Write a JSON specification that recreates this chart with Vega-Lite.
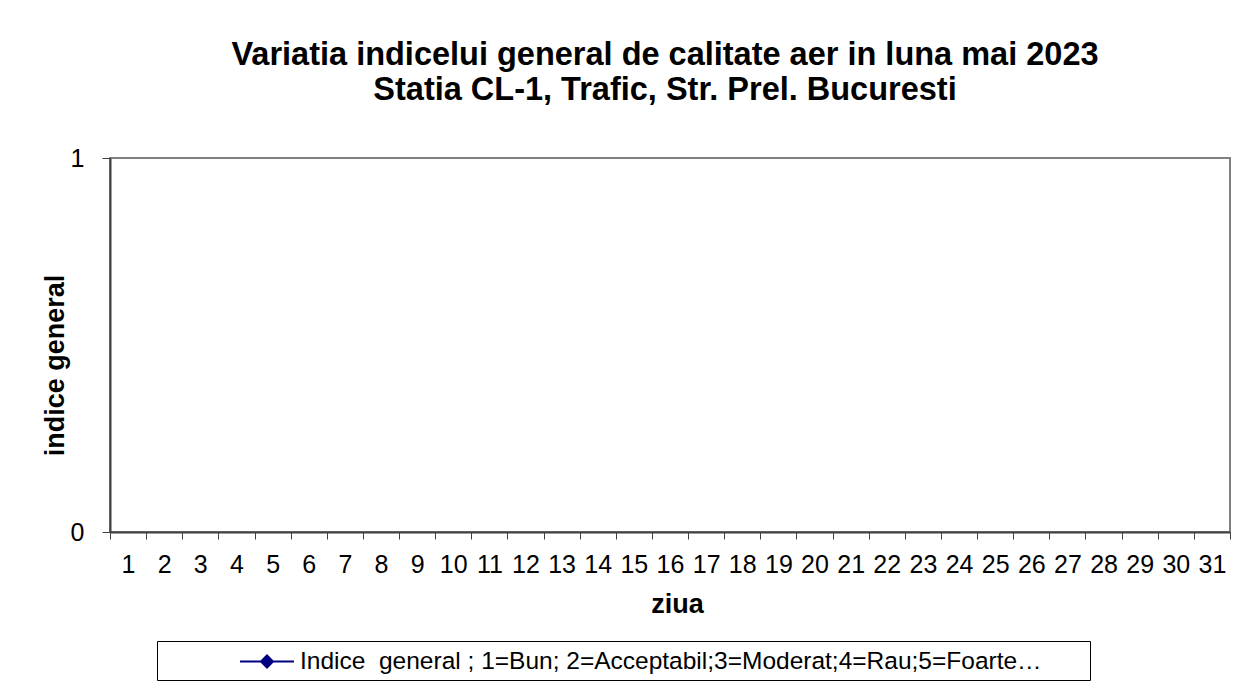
{
  "$schema": "https://vega.github.io/schema/vega-lite/v6.json",
  "width": 1120,
  "height": 374,
  "autosize": {"type": "none"},
  "padding": {"left": 110, "top": 158, "right": 20, "bottom": 156},
  "background": "white",
  "config": {
    "view": {"stroke": "#808080", "strokeWidth": 2},
    "font": "Liberation Sans"
  },
  "title": {
    "text": ["Variatia indicelui general de calitate aer in luna mai 2023", "Statia CL-1, Trafic, Str. Prel. Bucuresti"],
    "fontSize": 32.5,
    "fontWeight": "bold",
    "font": "Liberation Sans",
    "color": "black",
    "anchor": "middle",
    "frame": "group",
    "lineHeight": 35,
    "offset": 40,
    "dx": -5
  },
  "data": {
    "values": [
      {"ziua": 1, "indice": null, "serie": "Indice  general ; 1=Bun; 2=Acceptabil;3=Moderat;4=Rau;5=Foarte…"},
      {"ziua": 2, "indice": null, "serie": "Indice  general ; 1=Bun; 2=Acceptabil;3=Moderat;4=Rau;5=Foarte…"},
      {"ziua": 3, "indice": null, "serie": "Indice  general ; 1=Bun; 2=Acceptabil;3=Moderat;4=Rau;5=Foarte…"},
      {"ziua": 4, "indice": null, "serie": "Indice  general ; 1=Bun; 2=Acceptabil;3=Moderat;4=Rau;5=Foarte…"},
      {"ziua": 5, "indice": null, "serie": "Indice  general ; 1=Bun; 2=Acceptabil;3=Moderat;4=Rau;5=Foarte…"},
      {"ziua": 6, "indice": null, "serie": "Indice  general ; 1=Bun; 2=Acceptabil;3=Moderat;4=Rau;5=Foarte…"},
      {"ziua": 7, "indice": null, "serie": "Indice  general ; 1=Bun; 2=Acceptabil;3=Moderat;4=Rau;5=Foarte…"},
      {"ziua": 8, "indice": null, "serie": "Indice  general ; 1=Bun; 2=Acceptabil;3=Moderat;4=Rau;5=Foarte…"},
      {"ziua": 9, "indice": null, "serie": "Indice  general ; 1=Bun; 2=Acceptabil;3=Moderat;4=Rau;5=Foarte…"},
      {"ziua": 10, "indice": null, "serie": "Indice  general ; 1=Bun; 2=Acceptabil;3=Moderat;4=Rau;5=Foarte…"},
      {"ziua": 11, "indice": null, "serie": "Indice  general ; 1=Bun; 2=Acceptabil;3=Moderat;4=Rau;5=Foarte…"},
      {"ziua": 12, "indice": null, "serie": "Indice  general ; 1=Bun; 2=Acceptabil;3=Moderat;4=Rau;5=Foarte…"},
      {"ziua": 13, "indice": null, "serie": "Indice  general ; 1=Bun; 2=Acceptabil;3=Moderat;4=Rau;5=Foarte…"},
      {"ziua": 14, "indice": null, "serie": "Indice  general ; 1=Bun; 2=Acceptabil;3=Moderat;4=Rau;5=Foarte…"},
      {"ziua": 15, "indice": null, "serie": "Indice  general ; 1=Bun; 2=Acceptabil;3=Moderat;4=Rau;5=Foarte…"},
      {"ziua": 16, "indice": null, "serie": "Indice  general ; 1=Bun; 2=Acceptabil;3=Moderat;4=Rau;5=Foarte…"},
      {"ziua": 17, "indice": null, "serie": "Indice  general ; 1=Bun; 2=Acceptabil;3=Moderat;4=Rau;5=Foarte…"},
      {"ziua": 18, "indice": null, "serie": "Indice  general ; 1=Bun; 2=Acceptabil;3=Moderat;4=Rau;5=Foarte…"},
      {"ziua": 19, "indice": null, "serie": "Indice  general ; 1=Bun; 2=Acceptabil;3=Moderat;4=Rau;5=Foarte…"},
      {"ziua": 20, "indice": null, "serie": "Indice  general ; 1=Bun; 2=Acceptabil;3=Moderat;4=Rau;5=Foarte…"},
      {"ziua": 21, "indice": null, "serie": "Indice  general ; 1=Bun; 2=Acceptabil;3=Moderat;4=Rau;5=Foarte…"},
      {"ziua": 22, "indice": null, "serie": "Indice  general ; 1=Bun; 2=Acceptabil;3=Moderat;4=Rau;5=Foarte…"},
      {"ziua": 23, "indice": null, "serie": "Indice  general ; 1=Bun; 2=Acceptabil;3=Moderat;4=Rau;5=Foarte…"},
      {"ziua": 24, "indice": null, "serie": "Indice  general ; 1=Bun; 2=Acceptabil;3=Moderat;4=Rau;5=Foarte…"},
      {"ziua": 25, "indice": null, "serie": "Indice  general ; 1=Bun; 2=Acceptabil;3=Moderat;4=Rau;5=Foarte…"},
      {"ziua": 26, "indice": null, "serie": "Indice  general ; 1=Bun; 2=Acceptabil;3=Moderat;4=Rau;5=Foarte…"},
      {"ziua": 27, "indice": null, "serie": "Indice  general ; 1=Bun; 2=Acceptabil;3=Moderat;4=Rau;5=Foarte…"},
      {"ziua": 28, "indice": null, "serie": "Indice  general ; 1=Bun; 2=Acceptabil;3=Moderat;4=Rau;5=Foarte…"},
      {"ziua": 29, "indice": null, "serie": "Indice  general ; 1=Bun; 2=Acceptabil;3=Moderat;4=Rau;5=Foarte…"},
      {"ziua": 30, "indice": null, "serie": "Indice  general ; 1=Bun; 2=Acceptabil;3=Moderat;4=Rau;5=Foarte…"},
      {"ziua": 31, "indice": null, "serie": "Indice  general ; 1=Bun; 2=Acceptabil;3=Moderat;4=Rau;5=Foarte…"}
    ]
  },
  "mark": {"type": "line", "strokeWidth": 2, "point": {"shape": "diamond", "filled": true, "size": 100}},
  "encoding": {
    "x": {
      "field": "ziua",
      "type": "ordinal",
      "scale": {"type": "band", "domain": [1,2,3,4,5,6,7,8,9,10,11,12,13,14,15,16,17,18,19,20,21,22,23,24,25,26,27,28,29,30,31], "paddingInner": 0, "paddingOuter": 0},
      "axis": {
        "title": "ziua",
        "titleFont": "Liberation Sans",
        "titleFontSize": 27,
        "titleFontWeight": "bold",
        "titleColor": "black",
        "titleBaseline": "alphabetic",
        "titleX": 567,
        "titleY": 80,
        "labelAngle": 0,
        "labelFont": "Liberation Sans",
        "labelFontSize": 25,
        "labelColor": "black",
        "labelPadding": 13,
        "labelOverlap": false,
        "labelFlush": false,
        "tickSize": 7,
        "tickColor": "#404040",
        "tickWidth": 1,
        "tickBand": "extent",
        "domainColor": "#404040",
        "domainWidth": 2,
        "grid": false
      }
    },
    "y": {
      "field": "indice",
      "type": "quantitative",
      "scale": {"domain": [0, 1], "nice": false, "zero": false},
      "axis": {
        "title": "indice general",
        "titleFont": "Liberation Sans",
        "titleFontSize": 27,
        "titleFontWeight": "bold",
        "titleColor": "black",
        "titleAngle": -90,
        "titleBaseline": "alphabetic",
        "titleAlign": "center",
        "titleX": -47,
        "titleY": 207,
        "values": [0, 1],
        "format": "d",
        "labelFont": "Liberation Sans",
        "labelFontSize": 25,
        "labelColor": "black",
        "labelPadding": 18,
        "tickSize": 8,
        "tickColor": "#404040",
        "tickWidth": 1,
        "domainColor": "#404040",
        "domainWidth": 2,
        "grid": false
      }
    },
    "color": {
      "field": "serie",
      "type": "nominal",
      "scale": {"domain": ["Indice  general ; 1=Bun; 2=Acceptabil;3=Moderat;4=Rau;5=Foarte…"], "range": ["#000080"]},
      "legend": {
        "orient": "none",
        "legendX": 47,
        "legendY": 483,
        "title": null,
        "strokeColor": "black",
        "fillColor": "white",
        "padding": 7,
        "symbolType": "M-2.16,0L2.16,0M0,-0.48L0.48,0L0,0.48L-0.48,0Z",
        "symbolSize": 625,
        "symbolStrokeWidth": 2,
        "symbolOffset": 89.5,
        "labelFont": "Liberation Sans",
        "labelFontSize": 24.5,
        "labelColor": "black",
        "labelLimit": 2000,
        "labelOffset": 19.5,
        "labelExpr": "replace(datum.label, '  ', ' \u00a0') + '\u00a0\u00a0\u00a0\u00a0\u00a0\u00a0\u200b'",
        "encode": {"symbols": {"update": {"fill": {"value": "#000080"}, "stroke": {"value": "#000080"}, "opacity": {"value": 1}}}}
      }
    }
  }
}
